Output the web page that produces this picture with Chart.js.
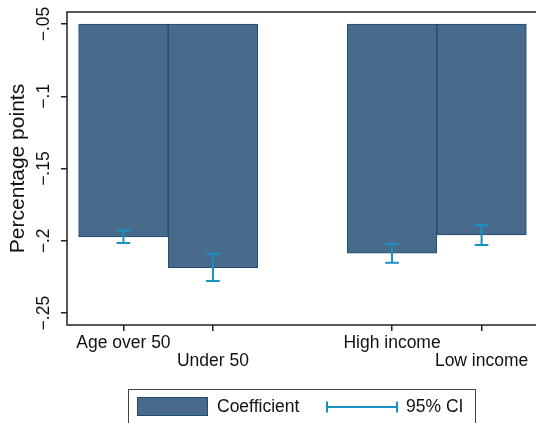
<!DOCTYPE html>
<html>
<head>
<meta charset="utf-8">
<script src="https://cdn.jsdelivr.net/npm/chart.js@4/dist/chart.umd.min.js"></script>
<style>
  html, body { margin: 0; padding: 0; background: #fff; overflow: hidden; }
  #wrap { width: 540px; height: 423px; }
</style>
</head>
<body>
<div id="wrap"><canvas id="c" width="540" height="423"></canvas></div>
<script>
// Groups and their positions along the x axis (gap between the two pairs)
const categories = ['Age over 50', 'Under 50', 'High income', 'Low income'];
const positions = [1, 2, 4, 5];
// Point estimates and 95% confidence bounds (percentage points)
const coefficients = [-0.1973, -0.2185, -0.2086, -0.1959];
const ciUpper = [-0.1929, -0.2090, -0.2021, -0.1890];
const ciLower = [-0.2014, -0.2277, -0.2152, -0.2028];
// Bars hang from this base value
const barBase = -0.05;
// Y axis tick values
const yTicks = [-0.25, -0.2, -0.15, -0.1, -0.05];

const FONT = '"Liberation Sans", Arial, Helvetica, sans-serif';
const BAR_FILL = '#486a8b';
const BAR_EDGE = '#1f4b73';
const CI_COLOR = '#1890c2';
const AXIS_COLOR = '#222222';

// Stata-style number labels: −.05, −.1 ...
function stataNum(v) {
  const r = Math.round(v * 1000) / 1000;
  let s = Math.abs(r).toString().replace(/^0\./, '.');
  return (r < 0 ? '\u2212' : '') + s;
}

const frame = {
  id: 'frame',
  afterDatasetsDraw(chart) {
    const { ctx, chartArea: a } = chart;
    ctx.save();
    ctx.strokeStyle = AXIS_COLOR;
    ctx.lineWidth = 1.5;
    ctx.strokeRect(a.left, a.top, a.right - a.left, a.bottom - a.top);
    ctx.restore();
  }
};

const errorBars = {
  id: 'errorBars',
  afterDatasetsDraw(chart) {
    const { ctx, scales: { x, y } } = chart;
    ctx.save();
    ctx.strokeStyle = CI_COLOR;
    ctx.lineWidth = 2;
    const half = 6.8;
    positions.forEach((p, i) => {
      const px = x.getPixelForValue(p);
      const yHi = y.getPixelForValue(ciUpper[i]);
      const yLo = y.getPixelForValue(ciLower[i]);
      ctx.beginPath();
      ctx.moveTo(px, yHi); ctx.lineTo(px, yLo);
      ctx.moveTo(px - half, yHi); ctx.lineTo(px + half, yHi);
      ctx.moveTo(px - half, yLo); ctx.lineTo(px + half, yLo);
      ctx.stroke();
    });
    ctx.restore();
  }
};

const legendBox = {
  id: 'legendBox',
  afterDraw(chart) {
    const { ctx } = chart;
    ctx.save();
    ctx.strokeStyle = '#444444';
    ctx.lineWidth = 1;
    ctx.strokeRect(128.5, 389.5, 347, 44);
    // bar swatch
    ctx.fillStyle = BAR_FILL;
    ctx.fillRect(137, 397, 71, 19);
    ctx.strokeStyle = BAR_EDGE;
    ctx.strokeRect(137.5, 397.5, 70, 18);
    // CI symbol
    ctx.strokeStyle = CI_COLOR;
    ctx.lineWidth = 2;
    ctx.beginPath();
    ctx.moveTo(327, 407); ctx.lineTo(397, 407);
    ctx.moveTo(327, 401.5); ctx.lineTo(327, 412.5);
    ctx.moveTo(397, 401.5); ctx.lineTo(397, 412.5);
    ctx.stroke();
    // labels
    ctx.fillStyle = '#111111';
    ctx.font = '17.5px ' + FONT;
    ctx.textBaseline = 'middle';
    ctx.textAlign = 'left';
    ctx.fillText('Coefficient', 217, 407);
    ctx.fillText('95% CI', 406, 407);
    ctx.restore();
  }
};

new Chart(document.getElementById('c'), {
  type: 'bar',
  data: {
    datasets: [{
      label: 'Coefficient',
      data: positions.map((p, i) => ({ x: p, y: [barBase, coefficients[i]] })),
      backgroundColor: BAR_FILL,
      borderColor: BAR_EDGE,
      borderWidth: 1,
      borderSkipped: false,
      barPercentage: 1,
      categoryPercentage: 1
    }]
  },
  options: {
    responsive: false,
    animation: false,
    devicePixelRatio: 1,
    layout: { padding: { top: 12, right: 2, bottom: 0, left: 0 } },
    plugins: { legend: { display: false }, tooltip: { enabled: false } },
    scales: {
      x: {
        type: 'linear',
        offset: false,
        min: 0.37,
        max: 5.63,
        afterBuildTicks(axis) { axis.ticks = positions.map(v => ({ value: v })); },
        afterFit(axis) { axis.height = 98; },
        border: { display: false },
        grid: { offset: false, drawOnChartArea: false, drawTicks: true, tickLength: 6, color: AXIS_COLOR, lineWidth: 1.5 },
        ticks: {
          autoSkip: false,
          maxRotation: 0,
          minRotation: 0,
          padding: 3,
          color: '#111111',
          font: { family: FONT, size: 17.5, lineHeight: '18px' },
          callback(v) {
            const i = positions.indexOf(v);
            if (i < 0) return '';
            return i % 2 === 0 ? [categories[i]] : ['', categories[i]];
          }
        }
      },
      y: {
        min: -0.2582,
        max: -0.0417,
        afterBuildTicks(axis) { axis.ticks = yTicks.map(v => ({ value: v })); },
        afterFit(axis) { axis.width = 67; },
        border: { display: false },
        grid: { drawOnChartArea: false, drawTicks: true, tickLength: 6, color: AXIS_COLOR, lineWidth: 1.5 },
        title: {
          display: true,
          text: 'Percentage points',
          color: '#111111',
          font: { family: FONT, size: 21 },
          padding: { top: 6, bottom: 0 }
        },
        ticks: {
          minRotation: 90,
          maxRotation: 90,
          crossAlign: 'center',
          padding: 0,
          color: '#111111',
          font: { family: FONT, size: 17.5 },
          callback(v) { return stataNum(v); }
        }
      }
    }
  },
  plugins: [frame, errorBars, legendBox]
});
</script>
</body>
</html>
